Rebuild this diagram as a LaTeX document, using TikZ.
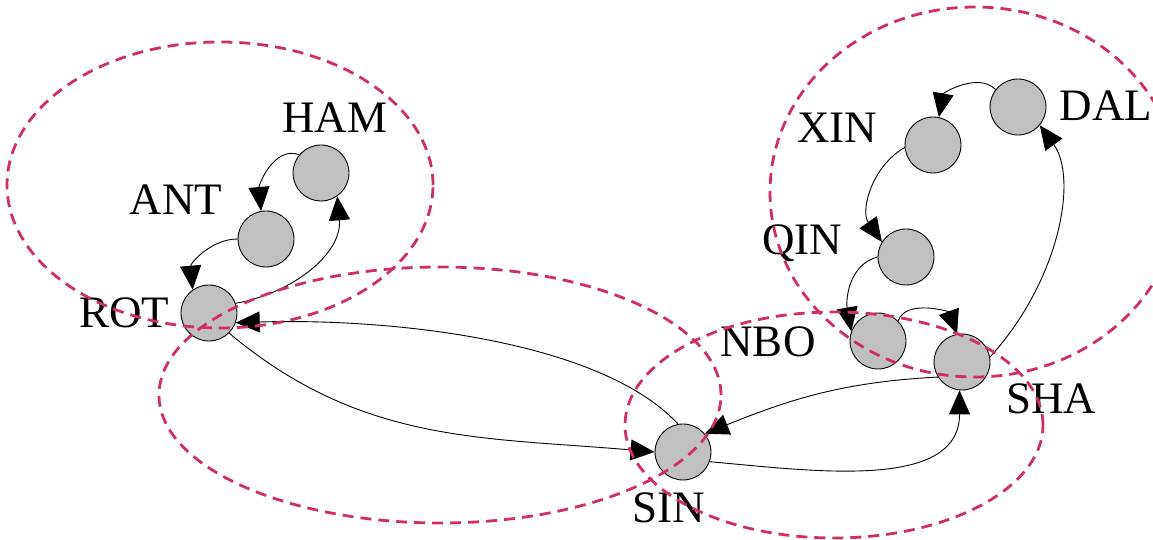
\documentclass[tikz,border=0pt]{standalone}
\usepackage{fontspec}
\setmainfont{Liberation Serif}
\usetikzlibrary{arrows.meta}
\definecolor{sitegray}{RGB}{192,192,192}
\definecolor{groupred}{RGB}{208,48,96}
\begin{document}
\begin{tikzpicture}[x=1pt,y=1pt,
  site/.style={circle,draw=black,fill=sitegray,line width=0.9pt,minimum size=56pt,inner sep=0pt},
  tag/.style={font=\fontsize{45}{50}\selectfont,anchor=base,inner sep=0pt},
  link/.style={line width=0.9pt,-{Triangle[length=24pt,width=21pt]}},
  group/.style={draw=groupred,line width=2.8pt,dash pattern=on 11pt off 7pt}]
\useasboundingbox (0,0) rectangle (1153,540);

% sites
\node[site] (HAM) at (321,367) {};
\node[site] (ANT) at (266,301) {};
\node[site] (ROT) at (209,227) {};
\node[site] (SIN) at (683,88) {};
\node[site] (NBO) at (878,199) {};
\node[site] (SHA) at (962,178) {};
\node[site] (QIN) at (906,283) {};
\node[site] (XIN) at (933,395) {};
\node[site] (DAL) at (1018,433) {};

% names
\node[tag] (hamname) at (335,407) {HAM};
\node[tag] (antname) at (176,325) {ANT};
\node[tag] (rotname) at (124,212) {ROT};
\node[tag] (sinname) at (669,17) {SIN};
\node[tag] (nboname) at (768,183) {NBO};
\node[tag] (shaname) at (1051,126) {SHA};
\node[tag] (qinname) at (802,285) {QIN};
\node[tag] (xinname) at (837,397) {XIN};
\node[tag] (dalname) at (1106,419) {DAL};

% links
\draw[link] (HAM.140) to[out=160,in=95] (ANT.100);
\draw[link] (ANT.180) to[out=180,in=95] (ROT.125);
\draw[link] (ROT.20) to[out=10,in=-85] (HAM.-55);
\draw[link] (ROT.-45) to[out=-40,in=175] (SIN.180);
\draw[link] (SIN.100) .. controls (600,200) and (390,222) .. (ROT.-20);
\draw[link] (SIN.-20) to[out=-5,in=-90] (SHA.-95);
\draw[link] (SHA.212) to[out=183,in=22] (SIN.40);
\draw[link] (QIN.180) to[out=195,in=100] (NBO.160);
\draw[link] (NBO.45) to[out=70,in=110] (SHA.100);
\draw[link] (XIN.185) to[out=210,in=125] (QIN.148);
\draw[link] (DAL.142) to[out=135,in=80] (XIN.78);
\draw[link] (SHA.10) .. controls (1060,260) and (1078,362) .. (DAL.-40);

% groups
\draw[group] (220,355) ellipse [x radius=213, y radius=143];
\draw[group] (440,145) ellipse [x radius=281, y radius=128];
\draw[group] (834,115) ellipse [x radius=209, y radius=113];
\draw[group] (975,348) ellipse [x radius=205, y radius=185];
\end{tikzpicture}
\end{document}
